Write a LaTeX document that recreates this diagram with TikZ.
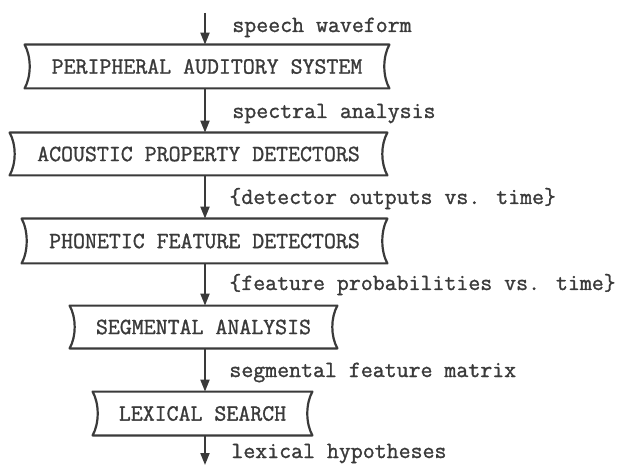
\documentclass[tikz,border=0pt]{standalone}
\usepackage{fontspec}
\newfontfamily\typew[FakeBold=1.2]{Latin Modern Mono}
\usetikzlibrary{arrows.meta}
\definecolor{ink}{HTML}{3A3A3A}
\tikzset{
  tt/.style={font=\typew\fontsize{11.6}{13}\selectfont, text=ink},
  box/.style={tt, inner sep=0pt, draw=none},
  lbl/.style={tt, anchor=base west, inner sep=0pt},
  arr/.style={draw=ink, line width=1pt, -{Triangle[length=6pt,width=4.5pt]}},
  frame/.style={draw=ink, line width=1.1pt, line join=round}
}
\newcommand\tapeframe[1]{%
  \draw[frame] (#1.north west) -- (#1.north east)
    .. controls ([shift={(-3.4pt,-6pt)}]#1.north east) and ([shift={(-3.4pt,6pt)}]#1.south east) .. (#1.south east)
    -- (#1.south west)
    .. controls ([shift={(3.4pt,6pt)}]#1.south west) and ([shift={(3.4pt,-6pt)}]#1.north west) .. (#1.north west) -- cycle;}
\begin{document}
\begin{tikzpicture}[x=0.5pt,y=-0.5pt]
  \useasboundingbox[fill=white] (0,0) rectangle (622,465);
  \coordinate (top) at (205,13);
  \coordinate (bot) at (205,465);
  \node[box, minimum width=182pt, minimum height=21.5pt] (b1) at (207,66.5) {PERIPHERAL AUDITORY SYSTEM};
  \node[box, minimum width=188.5pt, minimum height=21pt] (b2) at (198.5,154) {ACOUSTIC PROPERTY DETECTORS};
  \node[box, minimum width=182.5pt, minimum height=22pt] (b3) at (204.5,241) {PHONETIC FEATURE DETECTORS};
  \node[box, minimum width=133.5pt, minimum height=21pt] (b4) at (203.5,327) {SEGMENTAL ANALYSIS};
  \node[box, minimum width=109.5pt, minimum height=21.5pt] (b5) at (202.5,413.5) {LEXICAL SEARCH};
  \tapeframe{b1}\tapeframe{b2}\tapeframe{b3}\tapeframe{b4}\tapeframe{b5}
  \draw[arr] (top) -- (b1.north -| top);
  \draw[arr] (b1.south -| top) -- (b2.north -| top);
  \draw[arr] (b2.south -| top) -- (b3.north -| top);
  \draw[arr] (b3.south -| top) -- (b4.north -| top);
  \draw[arr] (b4.south -| top) -- (b5.north -| top);
  \draw[arr] (b5.south -| top) -- (bot);
  \node[lbl] (l1) at (232,32) {speech waveform};
  \node[lbl] (l2) at (232,118) {spectral analysis};
  \node[lbl] (l3) at (229,204) {\{detector outputs vs. time\}};
  \node[lbl] (l4) at (229,290) {\{feature probabilities vs. time\}};
  \node[lbl] (l5) at (229,377) {segmental feature matrix};
  \node[lbl] (l6) at (231,458) {lexical hypotheses};
\end{tikzpicture}
\end{document}
